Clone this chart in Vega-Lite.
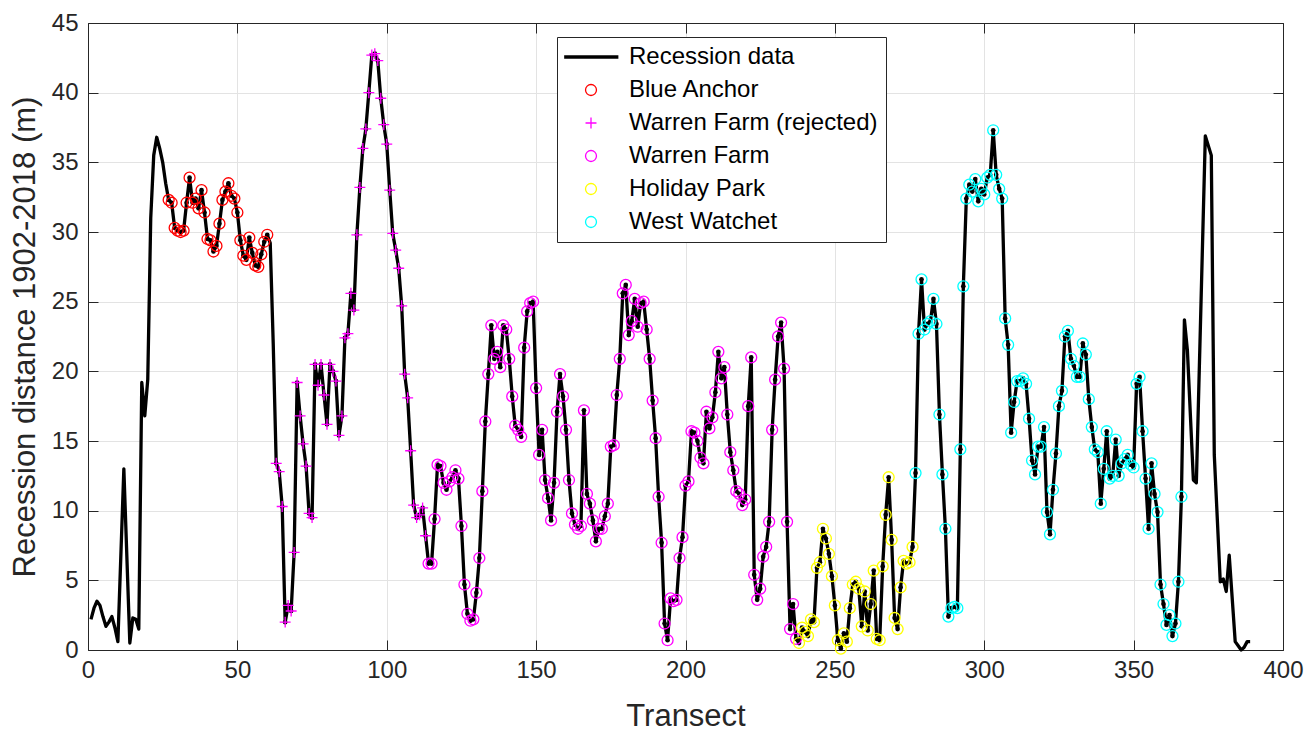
{
"$schema": "https://vega.github.io/schema/vega-lite/v6.json",
"width": 1195, "height": 627,
"autosize": {"type": "none"},
"padding": {"left": 88, "top": 23, "right": 30, "bottom": 86},
"background": "white",
"config": {"view": {"stroke": null}, "font": "Liberation Sans"},
"data": {"values": [
{"t":1,"d":2.2,"z":""},{"t":2,"d":3.0,"z":""},{"t":3,"d":3.5,"z":""},{"t":4,"d":3.2,"z":""},{"t":5,"d":2.4,"z":""},{"t":6,"d":1.7,"z":""},{"t":7,"d":2.0,"z":""},{"t":8,"d":2.4,"z":""},{"t":9,"d":1.6,"z":""},{"t":10,"d":0.6,"z":""},{"t":12,"d":13.0,"z":""},{"t":14,"d":0.5,"z":""},{"t":15,"d":2.3,"z":""},{"t":16,"d":2.2,"z":""},{"t":17,"d":1.5,"z":""},{"t":18,"d":19.2,"z":""},{"t":19,"d":16.8,"z":""},{"t":20,"d":19.4,"z":""},{"t":21,"d":31.0,"z":""},{"t":22,"d":35.5,"z":""},{"t":23,"d":36.8,"z":""},{"t":24,"d":36.0,"z":""},{"t":25,"d":35.0,"z":""},{"t":26,"d":33.5,"z":""},
{"t":27,"d":32.3,"z":"Blue Anchor"},{"t":28,"d":32.1,"z":"Blue Anchor"},{"t":29,"d":30.3,"z":"Blue Anchor"},{"t":30,"d":30.1,"z":"Blue Anchor"},{"t":31,"d":30.0,"z":"Blue Anchor"},{"t":32,"d":30.1,"z":"Blue Anchor"},{"t":33,"d":32.1,"z":"Blue Anchor"},{"t":34,"d":33.9,"z":"Blue Anchor"},{"t":35,"d":32.1,"z":"Blue Anchor"},{"t":36,"d":32.4,"z":"Blue Anchor"},{"t":37,"d":31.7,"z":"Blue Anchor"},{"t":38,"d":33.0,"z":"Blue Anchor"},{"t":39,"d":31.4,"z":"Blue Anchor"},{"t":40,"d":29.5,"z":"Blue Anchor"},{"t":41,"d":29.4,"z":"Blue Anchor"},{"t":42,"d":28.6,"z":"Blue Anchor"},{"t":43,"d":29.0,"z":"Blue Anchor"},{"t":44,"d":30.6,"z":"Blue Anchor"},{"t":45,"d":32.3,"z":"Blue Anchor"},{"t":46,"d":32.9,"z":"Blue Anchor"},{"t":47,"d":33.5,"z":"Blue Anchor"},{"t":48,"d":32.6,"z":"Blue Anchor"},{"t":49,"d":32.4,"z":"Blue Anchor"},{"t":50,"d":31.4,"z":"Blue Anchor"},{"t":51,"d":29.4,"z":"Blue Anchor"},{"t":52,"d":28.3,"z":"Blue Anchor"},{"t":53,"d":28.0,"z":"Blue Anchor"},{"t":54,"d":29.6,"z":"Blue Anchor"},{"t":55,"d":28.5,"z":"Blue Anchor"},{"t":56,"d":27.6,"z":"Blue Anchor"},{"t":57,"d":27.5,"z":"Blue Anchor"},{"t":58,"d":28.4,"z":"Blue Anchor"},{"t":59,"d":29.3,"z":"Blue Anchor"},{"t":60,"d":29.8,"z":"Blue Anchor"},
{"t":61,"d":29.2,"z":""},{"t":62,"d":22.0,"z":""},
{"t":63,"d":13.4,"z":"Warren Farm (rejected)"},{"t":64,"d":12.8,"z":"Warren Farm (rejected)"},{"t":65,"d":10.3,"z":"Warren Farm (rejected)"},{"t":66,"d":2.0,"z":"Warren Farm (rejected)"},{"t":67,"d":3.2,"z":"Warren Farm (rejected)"},{"t":68,"d":2.8,"z":"Warren Farm (rejected)"},{"t":69,"d":7.0,"z":"Warren Farm (rejected)"},{"t":70,"d":19.2,"z":"Warren Farm (rejected)"},{"t":71,"d":16.8,"z":"Warren Farm (rejected)"},{"t":72,"d":14.8,"z":"Warren Farm (rejected)"},{"t":73,"d":13.2,"z":"Warren Farm (rejected)"},{"t":74,"d":9.8,"z":"Warren Farm (rejected)"},{"t":75,"d":9.5,"z":"Warren Farm (rejected)"},{"t":76,"d":20.5,"z":"Warren Farm (rejected)"},{"t":77,"d":19.0,"z":"Warren Farm (rejected)"},{"t":78,"d":20.5,"z":"Warren Farm (rejected)"},{"t":79,"d":18.3,"z":"Warren Farm (rejected)"},{"t":80,"d":16.2,"z":"Warren Farm (rejected)"},{"t":81,"d":20.5,"z":"Warren Farm (rejected)"},{"t":82,"d":20.0,"z":"Warren Farm (rejected)"},{"t":83,"d":19.3,"z":"Warren Farm (rejected)"},{"t":84,"d":15.4,"z":"Warren Farm (rejected)"},{"t":85,"d":16.8,"z":"Warren Farm (rejected)"},{"t":86,"d":22.4,"z":"Warren Farm (rejected)"},{"t":87,"d":22.7,"z":"Warren Farm (rejected)"},{"t":88,"d":25.6,"z":"Warren Farm (rejected)"},{"t":89,"d":24.4,"z":"Warren Farm (rejected)"},{"t":90,"d":29.8,"z":"Warren Farm (rejected)"},{"t":91,"d":33.2,"z":"Warren Farm (rejected)"},{"t":92,"d":36.0,"z":"Warren Farm (rejected)"},{"t":93,"d":37.4,"z":"Warren Farm (rejected)"},{"t":94,"d":40.0,"z":"Warren Farm (rejected)"},{"t":95,"d":42.7,"z":"Warren Farm (rejected)"},{"t":96,"d":42.8,"z":"Warren Farm (rejected)"},{"t":97,"d":42.3,"z":"Warren Farm (rejected)"},{"t":98,"d":39.6,"z":"Warren Farm (rejected)"},{"t":99,"d":37.7,"z":"Warren Farm (rejected)"},{"t":100,"d":36.3,"z":"Warren Farm (rejected)"},{"t":101,"d":33.0,"z":"Warren Farm (rejected)"},{"t":102,"d":29.9,"z":"Warren Farm (rejected)"},{"t":103,"d":28.7,"z":"Warren Farm (rejected)"},{"t":104,"d":27.4,"z":"Warren Farm (rejected)"},{"t":105,"d":24.7,"z":"Warren Farm (rejected)"},{"t":106,"d":19.8,"z":"Warren Farm (rejected)"},{"t":107,"d":18.1,"z":"Warren Farm (rejected)"},{"t":108,"d":14.3,"z":"Warren Farm (rejected)"},{"t":109,"d":10.4,"z":"Warren Farm (rejected)"},{"t":110,"d":9.5,"z":"Warren Farm (rejected)"},{"t":111,"d":9.7,"z":"Warren Farm (rejected)"},{"t":112,"d":10.2,"z":"Warren Farm (rejected)"},{"t":113,"d":8.2,"z":"Warren Farm (rejected)"},
{"t":114,"d":6.2,"z":"Warren Farm"},{"t":115,"d":6.2,"z":"Warren Farm"},{"t":116,"d":9.4,"z":"Warren Farm"},{"t":117,"d":13.3,"z":"Warren Farm"},{"t":118,"d":13.2,"z":"Warren Farm"},{"t":119,"d":12.0,"z":"Warren Farm"},{"t":120,"d":11.5,"z":"Warren Farm"},{"t":121,"d":12.1,"z":"Warren Farm"},{"t":122,"d":12.4,"z":"Warren Farm"},{"t":123,"d":12.9,"z":"Warren Farm"},{"t":124,"d":12.3,"z":"Warren Farm"},{"t":125,"d":8.9,"z":"Warren Farm"},{"t":126,"d":4.7,"z":"Warren Farm"},{"t":127,"d":2.6,"z":"Warren Farm"},{"t":128,"d":2.1,"z":"Warren Farm"},{"t":129,"d":2.2,"z":"Warren Farm"},{"t":130,"d":4.1,"z":"Warren Farm"},{"t":131,"d":6.6,"z":"Warren Farm"},{"t":132,"d":11.4,"z":"Warren Farm"},{"t":133,"d":16.4,"z":"Warren Farm"},{"t":134,"d":19.8,"z":"Warren Farm"},{"t":135,"d":23.3,"z":"Warren Farm"},{"t":136,"d":20.9,"z":"Warren Farm"},{"t":137,"d":21.4,"z":"Warren Farm"},{"t":138,"d":20.3,"z":"Warren Farm"},{"t":139,"d":23.3,"z":"Warren Farm"},{"t":140,"d":23.0,"z":"Warren Farm"},{"t":141,"d":20.9,"z":"Warren Farm"},{"t":142,"d":18.2,"z":"Warren Farm"},{"t":143,"d":16.1,"z":"Warren Farm"},{"t":144,"d":15.8,"z":"Warren Farm"},{"t":145,"d":15.3,"z":"Warren Farm"},{"t":146,"d":21.7,"z":"Warren Farm"},{"t":147,"d":24.3,"z":"Warren Farm"},{"t":148,"d":24.9,"z":"Warren Farm"},{"t":149,"d":25.0,"z":"Warren Farm"},{"t":150,"d":18.8,"z":"Warren Farm"},{"t":151,"d":14.0,"z":"Warren Farm"},{"t":152,"d":15.8,"z":"Warren Farm"},{"t":153,"d":12.2,"z":"Warren Farm"},{"t":154,"d":10.9,"z":"Warren Farm"},{"t":155,"d":9.3,"z":"Warren Farm"},{"t":156,"d":12.0,"z":"Warren Farm"},{"t":157,"d":17.1,"z":"Warren Farm"},{"t":158,"d":19.8,"z":"Warren Farm"},{"t":159,"d":18.2,"z":"Warren Farm"},{"t":160,"d":15.8,"z":"Warren Farm"},{"t":161,"d":12.2,"z":"Warren Farm"},{"t":162,"d":9.8,"z":"Warren Farm"},{"t":163,"d":9.0,"z":"Warren Farm"},{"t":164,"d":8.7,"z":"Warren Farm"},{"t":165,"d":8.9,"z":"Warren Farm"},{"t":166,"d":17.2,"z":"Warren Farm"},{"t":167,"d":11.2,"z":"Warren Farm"},{"t":168,"d":10.5,"z":"Warren Farm"},{"t":169,"d":9.3,"z":"Warren Farm"},{"t":170,"d":7.8,"z":"Warren Farm"},{"t":171,"d":8.7,"z":"Warren Farm"},{"t":172,"d":8.7,"z":"Warren Farm"},{"t":173,"d":9.6,"z":"Warren Farm"},{"t":174,"d":10.5,"z":"Warren Farm"},{"t":175,"d":14.6,"z":"Warren Farm"},{"t":176,"d":14.7,"z":"Warren Farm"},{"t":177,"d":18.3,"z":"Warren Farm"},{"t":178,"d":20.9,"z":"Warren Farm"},{"t":179,"d":25.6,"z":"Warren Farm"},{"t":180,"d":26.2,"z":"Warren Farm"},{"t":181,"d":22.6,"z":"Warren Farm"},{"t":182,"d":23.6,"z":"Warren Farm"},{"t":183,"d":25.2,"z":"Warren Farm"},{"t":184,"d":23.2,"z":"Warren Farm"},{"t":185,"d":24.9,"z":"Warren Farm"},{"t":186,"d":25.0,"z":"Warren Farm"},{"t":187,"d":23.0,"z":"Warren Farm"},{"t":188,"d":20.9,"z":"Warren Farm"},{"t":189,"d":17.9,"z":"Warren Farm"},{"t":190,"d":15.2,"z":"Warren Farm"},{"t":191,"d":11.0,"z":"Warren Farm"},{"t":192,"d":7.7,"z":"Warren Farm"},{"t":193,"d":1.9,"z":"Warren Farm"},{"t":194,"d":0.7,"z":"Warren Farm"},{"t":195,"d":3.7,"z":"Warren Farm"},{"t":196,"d":3.5,"z":"Warren Farm"},{"t":197,"d":3.6,"z":"Warren Farm"},{"t":198,"d":6.6,"z":"Warren Farm"},{"t":199,"d":8.1,"z":"Warren Farm"},{"t":200,"d":11.8,"z":"Warren Farm"},{"t":201,"d":12.1,"z":"Warren Farm"},{"t":202,"d":15.7,"z":"Warren Farm"},{"t":203,"d":15.6,"z":"Warren Farm"},{"t":204,"d":15.0,"z":"Warren Farm"},{"t":205,"d":13.8,"z":"Warren Farm"},{"t":206,"d":13.4,"z":"Warren Farm"},{"t":207,"d":17.1,"z":"Warren Farm"},{"t":208,"d":15.9,"z":"Warren Farm"},{"t":209,"d":16.7,"z":"Warren Farm"},{"t":210,"d":18.5,"z":"Warren Farm"},{"t":211,"d":21.4,"z":"Warren Farm"},{"t":212,"d":19.5,"z":"Warren Farm"},{"t":213,"d":20.3,"z":"Warren Farm"},{"t":214,"d":16.9,"z":"Warren Farm"},{"t":215,"d":14.2,"z":"Warren Farm"},{"t":216,"d":12.9,"z":"Warren Farm"},{"t":217,"d":11.4,"z":"Warren Farm"},{"t":218,"d":11.2,"z":"Warren Farm"},{"t":219,"d":10.4,"z":"Warren Farm"},{"t":220,"d":10.8,"z":"Warren Farm"},{"t":221,"d":17.5,"z":"Warren Farm"},{"t":222,"d":21.0,"z":"Warren Farm"},{"t":223,"d":5.4,"z":"Warren Farm"},{"t":224,"d":3.6,"z":"Warren Farm"},{"t":225,"d":4.4,"z":"Warren Farm"},{"t":226,"d":6.7,"z":"Warren Farm"},{"t":227,"d":7.4,"z":"Warren Farm"},{"t":228,"d":9.2,"z":"Warren Farm"},{"t":229,"d":15.8,"z":"Warren Farm"},{"t":230,"d":19.4,"z":"Warren Farm"},{"t":231,"d":22.5,"z":"Warren Farm"},{"t":232,"d":23.5,"z":"Warren Farm"},{"t":233,"d":20.2,"z":"Warren Farm"},{"t":234,"d":9.2,"z":"Warren Farm"},{"t":235,"d":1.5,"z":"Warren Farm"},{"t":236,"d":3.3,"z":"Warren Farm"},{"t":237,"d":0.8,"z":"Warren Farm"},
{"t":238,"d":0.5,"z":"Holiday Park"},{"t":239,"d":1.6,"z":"Holiday Park"},{"t":240,"d":1.3,"z":"Holiday Park"},{"t":241,"d":1.0,"z":"Holiday Park"},{"t":242,"d":2.2,"z":"Holiday Park"},{"t":243,"d":2.0,"z":"Holiday Park"},{"t":244,"d":5.9,"z":"Holiday Park"},{"t":245,"d":6.3,"z":"Holiday Park"},{"t":246,"d":8.7,"z":"Holiday Park"},{"t":247,"d":8.0,"z":"Holiday Park"},{"t":248,"d":6.9,"z":"Holiday Park"},{"t":249,"d":5.3,"z":"Holiday Park"},{"t":250,"d":3.2,"z":"Holiday Park"},{"t":251,"d":0.7,"z":"Holiday Park"},{"t":252,"d":0.1,"z":"Holiday Park"},{"t":253,"d":1.2,"z":"Holiday Park"},{"t":254,"d":0.6,"z":"Holiday Park"},{"t":255,"d":3.0,"z":"Holiday Park"},{"t":256,"d":4.7,"z":"Holiday Park"},{"t":257,"d":4.9,"z":"Holiday Park"},{"t":258,"d":4.4,"z":"Holiday Park"},{"t":259,"d":1.7,"z":"Holiday Park"},{"t":260,"d":4.2,"z":"Holiday Park"},{"t":261,"d":1.4,"z":"Holiday Park"},{"t":262,"d":3.3,"z":"Holiday Park"},{"t":263,"d":5.7,"z":"Holiday Park"},{"t":264,"d":0.8,"z":"Holiday Park"},{"t":265,"d":0.7,"z":"Holiday Park"},{"t":266,"d":6.0,"z":"Holiday Park"},{"t":267,"d":9.7,"z":"Holiday Park"},{"t":268,"d":12.4,"z":"Holiday Park"},{"t":269,"d":7.9,"z":"Holiday Park"},{"t":270,"d":2.3,"z":"Holiday Park"},{"t":271,"d":1.5,"z":"Holiday Park"},{"t":272,"d":4.5,"z":"Holiday Park"},{"t":273,"d":6.4,"z":"Holiday Park"},{"t":274,"d":6.2,"z":"Holiday Park"},{"t":275,"d":6.3,"z":"Holiday Park"},{"t":276,"d":7.4,"z":"Holiday Park"},
{"t":277,"d":12.7,"z":"West Watchet"},{"t":278,"d":22.7,"z":"West Watchet"},{"t":279,"d":26.6,"z":"West Watchet"},{"t":280,"d":23.0,"z":"West Watchet"},{"t":281,"d":23.4,"z":"West Watchet"},{"t":282,"d":23.6,"z":"West Watchet"},{"t":283,"d":25.2,"z":"West Watchet"},{"t":284,"d":23.4,"z":"West Watchet"},{"t":285,"d":16.9,"z":"West Watchet"},{"t":286,"d":12.6,"z":"West Watchet"},{"t":287,"d":8.7,"z":"West Watchet"},{"t":288,"d":2.4,"z":"West Watchet"},{"t":289,"d":3.0,"z":"West Watchet"},{"t":290,"d":3.1,"z":"West Watchet"},{"t":291,"d":3.0,"z":"West Watchet"},{"t":292,"d":14.4,"z":"West Watchet"},{"t":293,"d":26.1,"z":"West Watchet"},{"t":294,"d":32.4,"z":"West Watchet"},{"t":295,"d":33.4,"z":"West Watchet"},{"t":296,"d":32.9,"z":"West Watchet"},{"t":297,"d":33.8,"z":"West Watchet"},{"t":298,"d":32.2,"z":"West Watchet"},{"t":299,"d":33.1,"z":"West Watchet"},{"t":300,"d":32.7,"z":"West Watchet"},{"t":301,"d":33.9,"z":"West Watchet"},{"t":302,"d":34.1,"z":"West Watchet"},{"t":303,"d":37.3,"z":"West Watchet"},{"t":304,"d":34.1,"z":"West Watchet"},{"t":305,"d":33.1,"z":"West Watchet"},{"t":306,"d":32.4,"z":"West Watchet"},{"t":307,"d":23.8,"z":"West Watchet"},{"t":308,"d":21.9,"z":"West Watchet"},{"t":309,"d":15.6,"z":"West Watchet"},{"t":310,"d":17.8,"z":"West Watchet"},{"t":311,"d":19.3,"z":"West Watchet"},{"t":312,"d":19.3,"z":"West Watchet"},{"t":313,"d":19.5,"z":"West Watchet"},{"t":314,"d":19.1,"z":"West Watchet"},{"t":315,"d":16.6,"z":"West Watchet"},{"t":316,"d":13.6,"z":"West Watchet"},{"t":317,"d":12.6,"z":"West Watchet"},{"t":318,"d":14.6,"z":"West Watchet"},{"t":319,"d":14.6,"z":"West Watchet"},{"t":320,"d":16.0,"z":"West Watchet"},{"t":321,"d":9.9,"z":"West Watchet"},{"t":322,"d":8.3,"z":"West Watchet"},{"t":323,"d":11.5,"z":"West Watchet"},{"t":324,"d":14.1,"z":"West Watchet"},{"t":325,"d":17.5,"z":"West Watchet"},{"t":326,"d":18.6,"z":"West Watchet"},{"t":327,"d":22.5,"z":"West Watchet"},{"t":328,"d":22.9,"z":"West Watchet"},{"t":329,"d":20.9,"z":"West Watchet"},{"t":330,"d":20.4,"z":"West Watchet"},{"t":331,"d":19.6,"z":"West Watchet"},{"t":332,"d":19.6,"z":"West Watchet"},{"t":333,"d":22.0,"z":"West Watchet"},{"t":334,"d":21.2,"z":"West Watchet"},{"t":335,"d":18.0,"z":"West Watchet"},{"t":336,"d":16.0,"z":"West Watchet"},{"t":337,"d":14.4,"z":"West Watchet"},{"t":338,"d":14.2,"z":"West Watchet"},{"t":339,"d":10.5,"z":"West Watchet"},{"t":340,"d":13.0,"z":"West Watchet"},{"t":341,"d":15.7,"z":"West Watchet"},{"t":342,"d":12.3,"z":"West Watchet"},{"t":343,"d":12.5,"z":"West Watchet"},{"t":344,"d":15.1,"z":"West Watchet"},{"t":345,"d":12.5,"z":"West Watchet"},{"t":346,"d":13.4,"z":"West Watchet"},{"t":347,"d":13.7,"z":"West Watchet"},{"t":348,"d":14.0,"z":"West Watchet"},{"t":349,"d":13.3,"z":"West Watchet"},{"t":350,"d":13.1,"z":"West Watchet"},{"t":351,"d":19.1,"z":"West Watchet"},{"t":352,"d":19.6,"z":"West Watchet"},{"t":353,"d":15.7,"z":"West Watchet"},{"t":354,"d":12.3,"z":"West Watchet"},{"t":355,"d":8.7,"z":"West Watchet"},{"t":356,"d":13.4,"z":"West Watchet"},{"t":357,"d":11.2,"z":"West Watchet"},{"t":358,"d":9.9,"z":"West Watchet"},{"t":359,"d":4.7,"z":"West Watchet"},{"t":360,"d":3.3,"z":"West Watchet"},{"t":361,"d":1.8,"z":"West Watchet"},{"t":362,"d":2.5,"z":"West Watchet"},{"t":363,"d":1.0,"z":"West Watchet"},{"t":364,"d":1.9,"z":"West Watchet"},{"t":365,"d":4.9,"z":"West Watchet"},{"t":366,"d":11.0,"z":"West Watchet"},
{"t":367,"d":23.7,"z":""},{"t":368,"d":21.5,"z":""},{"t":370,"d":12.2,"z":""},{"t":371,"d":12.0,"z":""},{"t":374,"d":36.9,"z":""},{"t":376,"d":35.5,"z":""},{"t":377,"d":14.0,"z":""},{"t":379,"d":4.9,"z":""},{"t":380,"d":5.1,"z":""},{"t":381,"d":4.2,"z":""},{"t":382,"d":6.8,"z":""},{"t":384,"d":0.6,"z":""},{"t":385,"d":0.3,"z":""},{"t":386,"d":0.0,"z":""},{"t":387,"d":0.2,"z":""},{"t":388,"d":0.6,"z":""},{"t":389,"d":0.6,"z":""}
]},
"layer": [
{"mark": {"type": "line", "color": "black", "strokeWidth": 3.3, "strokeJoin": "round"},
 "encoding": {
  "x": {"field": "t", "type": "quantitative", "scale": {"domain": [0, 400], "nice": false},
   "axis": {"orient": "bottom", "values": [0,50,100,150,200,250,300,350,400], "grid": true, "gridColor": "#e3e3e3", "gridWidth": 1,
    "tickSize": -10, "tickColor": "#262626", "tickWidth": 1, "domainColor": "#262626", "domainWidth": 1,
    "labelFont": "Liberation Sans", "labelFontSize": 24, "labelColor": "#262626", "labelPadding": 18, "labelFlush": false,
    "title": "Transect", "titleFont": "Liberation Sans", "titleFontSize": 31, "titleFontWeight": "normal", "titleColor": "#262626", "titlePadding": 19}},
  "y": {"field": "d", "type": "quantitative", "scale": {"domain": [0, 45], "nice": false},
   "axis": {"orient": "left", "values": [0,5,10,15,20,25,30,35,40,45], "grid": true, "gridColor": "#e3e3e3", "gridWidth": 1,
    "tickSize": -10, "tickColor": "#262626", "tickWidth": 1, "domainColor": "#262626", "domainWidth": 1,
    "labelFont": "Liberation Sans", "labelFontSize": 24, "labelColor": "#262626", "labelPadding": 20, "labelFlush": false,
    "title": "Recession distance 1902-2018 (m)", "titleFont": "Liberation Sans", "titleFontSize": 31, "titleFontWeight": "normal", "titleColor": "#262626", "titlePadding": 10}},
  "order": {"field": "t"}
 }},
{"transform": [{"filter": "datum.z != ''"}],
 "mark": {"type": "circle", "color": "black", "size": 22, "opacity": 1},
 "encoding": {
  "x": {"field": "t", "type": "quantitative", "axis": null},
  "y": {"field": "d", "type": "quantitative", "axis": null}
 }},
{"transform": [{"filter": "datum.z != ''"}],
 "mark": {"type": "point", "filled": false, "strokeWidth": 1.3, "opacity": 1, "size": 120},
 "encoding": {
  "x": {"field": "t", "type": "quantitative",
   "axis": {"orient": "top", "values": [0,50,100,150,200,250,300,350,400], "labels": false, "title": null, "grid": false,
    "tickSize": -10, "tickColor": "#262626", "domainColor": "#262626"}},
  "y": {"field": "d", "type": "quantitative",
   "axis": {"orient": "right", "values": [0,5,10,15,20,25,30,35,40,45], "labels": false, "title": null, "grid": false,
    "tickSize": -10, "tickColor": "#262626", "domainColor": "#262626"}},
  "color": {"field": "z", "type": "nominal",
   "scale": {"domain": ["Recession data", "Blue Anchor", "Warren Farm (rejected)", "Warren Farm", "Holiday Park", "West Watchet"],
             "range": ["#000000", "#ff0000", "#ff00ff", "#ff00ff", "#ffff00", "#00ffff"]},
   "legend": {"title": null, "orient": "none", "legendX": 469, "legendY": 14, "labelFont": "Liberation Sans", "labelFontSize": 24, "labelColor": "#000000",
    "strokeColor": "#262626", "fillColor": "#ffffff", "padding": 8, "rowPadding": 9, "symbolOffset": 14, "labelOffset": 26,
    "symbolStrokeWidth": 1.3, "symbolSize": 120, "labelLimit": 400}},
  "shape": {"field": "z", "type": "nominal",
   "scale": {"domain": ["Recession data", "Blue Anchor", "Warren Farm (rejected)", "Warren Farm", "Holiday Park", "West Watchet"],
             "range": ["M-4.9,-0.2L5,-0.2M-4.9,0L5,0M-4.9,0.2L5,0.2", "circle", "M-1,0L1,0M0,-1L0,1", "circle", "circle", "circle"]},
   "legend": {"title": null, "orient": "none", "legendX": 469, "legendY": 14, "labelFont": "Liberation Sans", "labelFontSize": 24, "labelColor": "#000000",
    "strokeColor": "#262626", "fillColor": "#ffffff", "padding": 8, "rowPadding": 9, "symbolOffset": 14, "labelOffset": 26,
    "symbolStrokeWidth": 1.3, "symbolSize": 120, "labelLimit": 400}}
 }}
],
"resolve": {"axis": {"x": "independent", "y": "independent"}}
}
